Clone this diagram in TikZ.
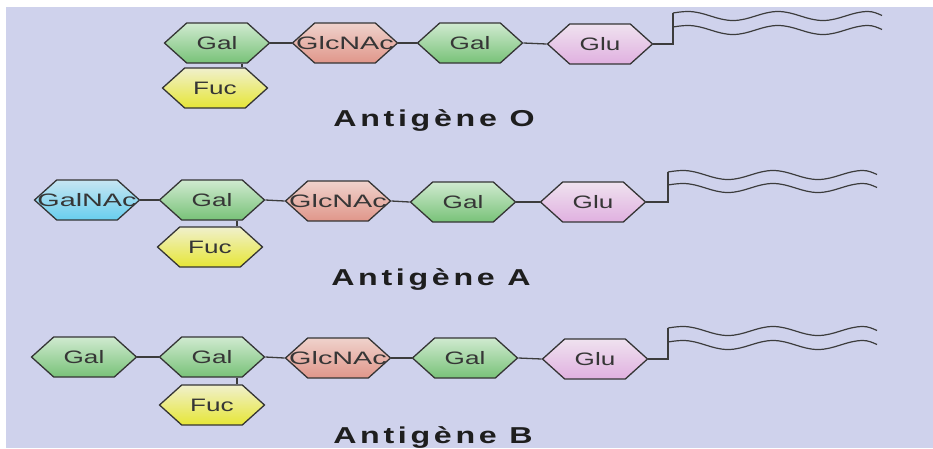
\documentclass[tikz,border=0pt]{standalone}
\usepackage{fontspec}
\setmainfont{Liberation Sans}
\newfontfamily\sugarfont[FakeStretch=1.45]{Liberation Sans}
\newfontfamily\sugarwidefont[FakeStretch=1.6]{Liberation Sans}
\newfontfamily\titlefont[FakeStretch=1.4,LetterSpace=16]{Liberation Sans}
\usetikzlibrary{shapes.symbols}

\definecolor{bgcol}{HTML}{CFD2EC}
\definecolor{hexline}{HTML}{353535}
\definecolor{linkcol}{HTML}{3C3C3C}
\definecolor{sugartext}{HTML}{363636}
\definecolor{titlecol}{HTML}{1E1E1E}
\definecolor{galtop}{HTML}{D0EAD0}
\definecolor{galbot}{HTML}{78C278}
\definecolor{glctop}{HTML}{EFD2CC}
\definecolor{glcbot}{HTML}{E0968A}
\definecolor{glutop}{HTML}{EFE2EF}
\definecolor{glubot}{HTML}{E0B0E0}
\definecolor{fuctop}{HTML}{F0F0CC}
\definecolor{fucbot}{HTML}{E6E636}
\definecolor{gntop}{HTML}{C6E6F2}
\definecolor{gnbot}{HTML}{68CEEE}

\begin{document}
\begin{tikzpicture}[x=1pt,y=-1pt,
  % hexagon of fixed size; its label is centred in a zero-width box so it may overhang
  sugar/.style={signal, signal to=east and west, signal pointer angle=84,
    draw=hexline, line width=1.3pt,
    minimum width=105pt, minimum height=40pt, inner sep=0pt,
    font=\sugarfont\fontsize{18}{18}\selectfont, text=sugartext,
    execute at begin node={\hbox to 0pt\bgroup\hss},
    execute at end node={\hss\egroup}},
  widetext/.style={font=\sugarwidefont\fontsize{18}{18}\selectfont},
  gal/.style={sugar, top color=galtop, bottom color=galbot},
  glcnac/.style={sugar, widetext, top color=glctop, bottom color=glcbot},
  glu/.style={sugar, top color=glutop, bottom color=glubot},
  fuc/.style={sugar, top color=fuctop, bottom color=fucbot},
  galnac/.style={sugar, widetext, top color=gntop, bottom color=gnbot},
  link/.style={draw=linkcol, line width=1.3pt},
  tail/.style={draw=linkcol, line width=1.2pt},
  title/.style={font=\titlefont\bfseries\fontsize{23}{23}\selectfont,
    text=titlecol, anchor=base, inner sep=0pt},
  % wavy lipid tail, drawn from its left end
  wave/.pic={\draw[tail] (0,0) sin (15,-1.5) cos (37.5,3) sin (60,7.5) cos (82.5,3)
      sin (105,-1.5) cos (127.5,3) sin (150,7.5) cos (172.5,3) sin (195,-1.5) cos (209,2.5);}
]
% page and background panel
\useasboundingbox (0,0) rectangle (933,448);
\fill[white] (0,0) rectangle (933,448);
\fill[bgcol] (6,7) rectangle (933,448);

% ---------- antigen O ----------
\node[gal]    (oGal)  at (217,43) {Gal};
\node[fuc]    (oFuc)  at (215,88) {Fuc};
\node[glcnac] (oGlc)  at (345,43) {GlcNAc};
\node[gal]    (oGal2) at (470,43) {Gal};
\node[glu]    (oGlu)  at (600,44) {Glu};
\draw[link] (oGal.east) -- (oGlc.west);
\draw[link] (oGlc.east) -- (oGal2.west);
\draw[link] (oGal2.east) -- (oGlu.west);
\draw[link] ([xshift=25pt]oGal.south) -- ([xshift=25pt]oGal.south |- oFuc.north);
\coordinate (oT1) at (673,13);
\coordinate (oT2) at (673,27);
\draw[tail] (oGlu.east) -| (oT1);
\pic at (oT1) {wave};
\pic at (oT2) {wave};
\node[title] (oLbl) at (434,126) {Antigène O};

% ---------- antigen A ----------
\node[galnac] (aGn)   at (87,200)  {GalNAc};
\node[gal]    (aGal)  at (212,200) {Gal};
\node[fuc]    (aFuc)  at (210,247) {Fuc};
\node[glcnac] (aGlc)  at (338,201) {GlcNAc};
\node[gal]    (aGal2) at (463,202) {Gal};
\node[glu]    (aGlu)  at (593,202) {Glu};
\draw[link] (aGn.east) -- (aGal.west);
\draw[link] (aGal.east) -- (aGlc.west);
\draw[link] (aGlc.east) -- (aGal2.west);
\draw[link] (aGal2.east) -- (aGlu.west);
\draw[link] ([xshift=25pt]aGal.south) -- ([xshift=25pt]aGal.south |- aFuc.north);
\coordinate (aT1) at (668,172);
\coordinate (aT2) at (668,185);
\draw[tail] (aGlu.east) -| (aT1);
\pic at (aT1) {wave};
\pic at (aT2) {wave};
\node[title] (aLbl) at (431,285) {Antigène A};

% ---------- antigen B ----------
\node[gal]    (bGal0) at (84,357)  {Gal};
\node[gal]    (bGal)  at (212,357) {Gal};
\node[fuc]    (bFuc)  at (212,405) {Fuc};
\node[glcnac] (bGlc)  at (338,358) {GlcNAc};
\node[gal]    (bGal2) at (465,358) {Gal};
\node[glu]    (bGlu)  at (595,359) {Glu};
\draw[link] (bGal0.east) -- (bGal.west);
\draw[link] (bGal.east) -- (bGlc.west);
\draw[link] (bGlc.east) -- (bGal2.west);
\draw[link] (bGal2.east) -- (bGlu.west);
\draw[link] ([xshift=25pt]bGal.south) -- ([xshift=25pt]bGal.south |- bFuc.north);
\coordinate (bT1) at (668,328);
\coordinate (bT2) at (668,342);
\draw[tail] (bGlu.east) -| (bT1);
\pic at (bT1) {wave};
\pic at (bT2) {wave};
\node[title] (bLbl) at (433,443) {Antigène B};
\end{tikzpicture}
\end{document}
